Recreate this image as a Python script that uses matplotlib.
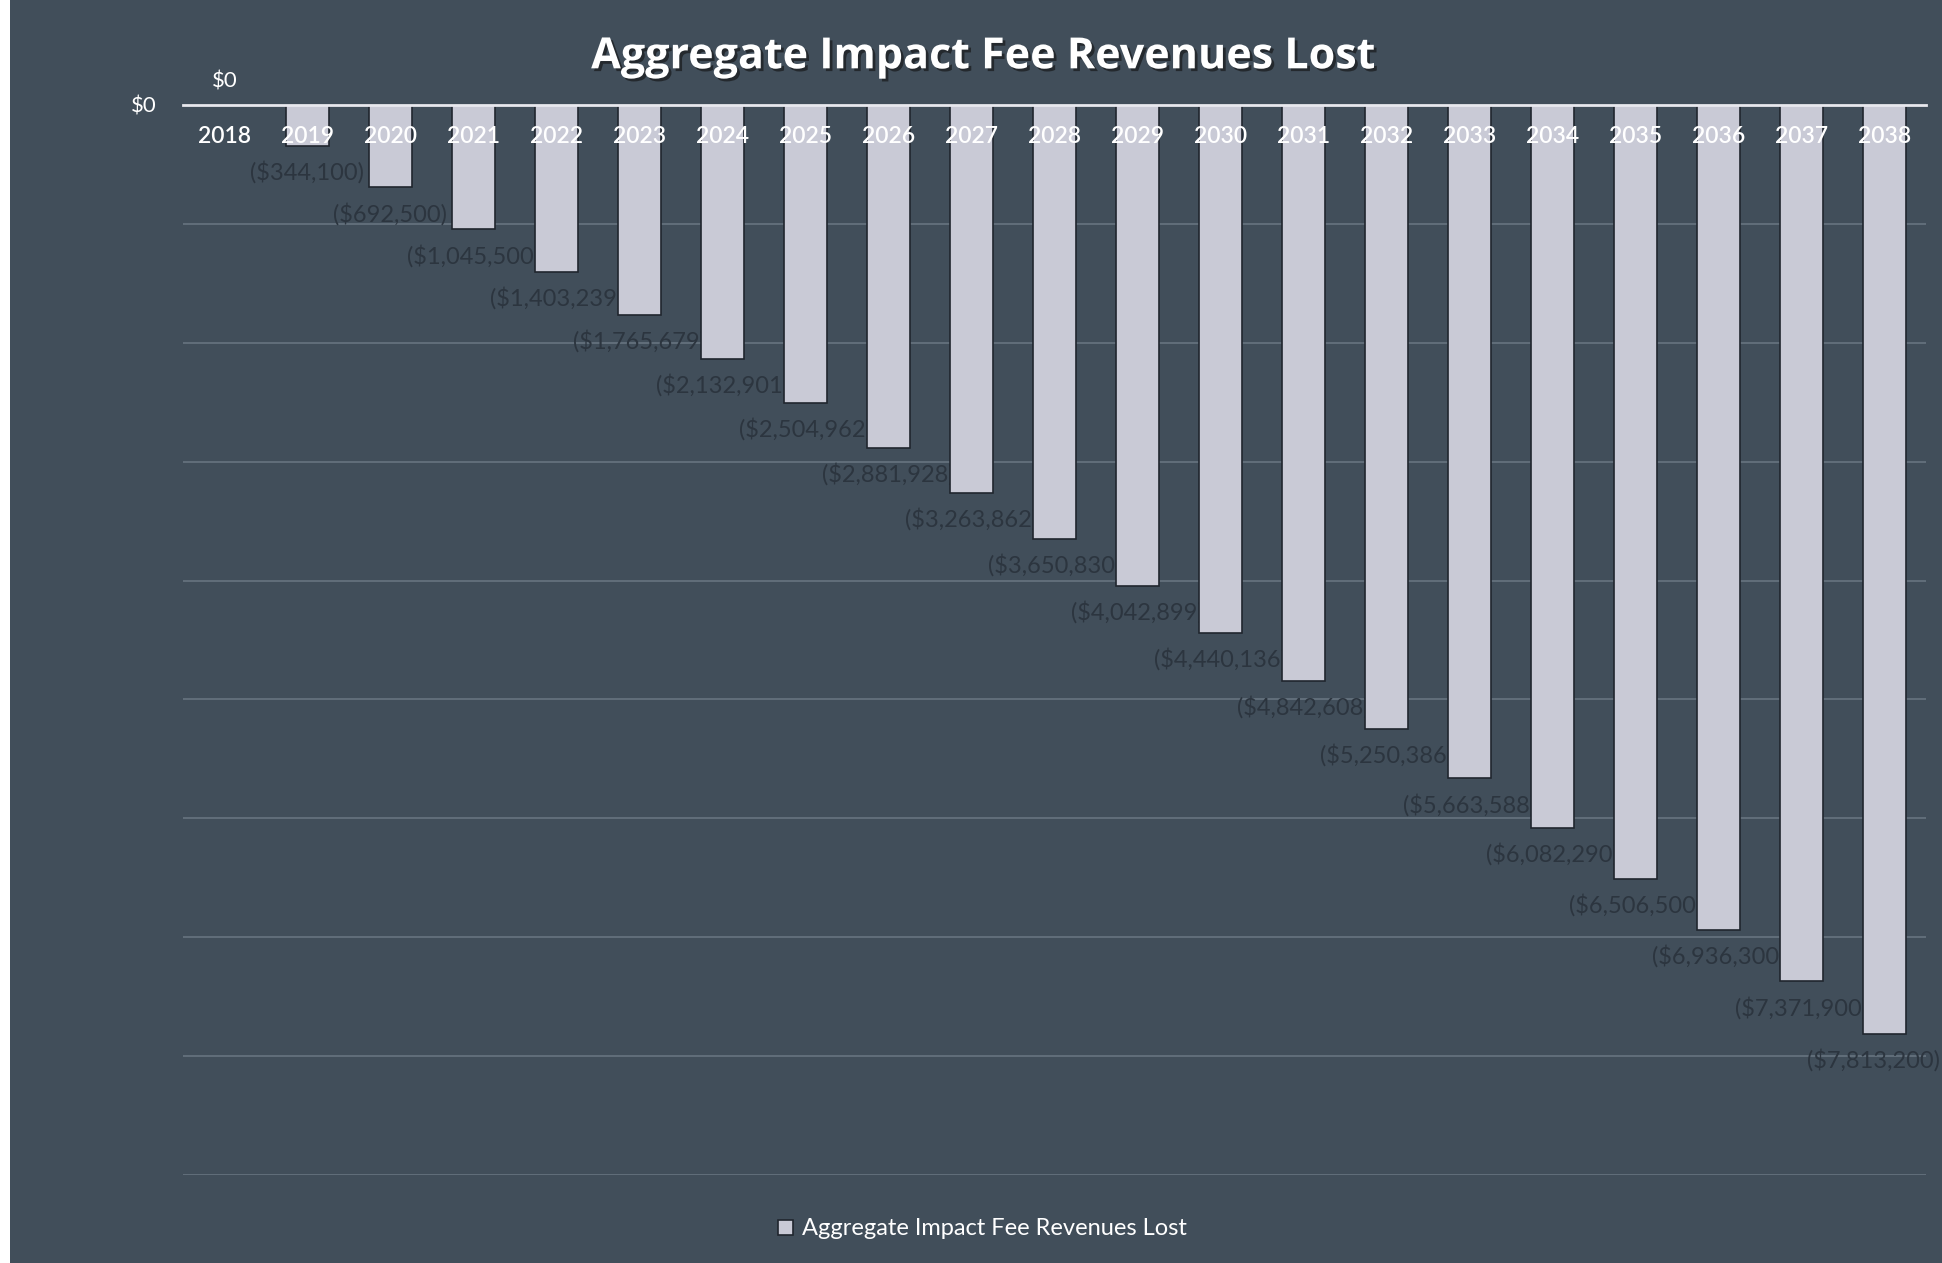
import matplotlib
matplotlib.use("Agg")
import matplotlib.pyplot as plt
from matplotlib.patches import Rectangle
import matplotlib.patheffects as pe

years = ["2018", "2019", "2020", "2021", "2022", "2023", "2024", "2025", "2026", "2027",
         "2028", "2029", "2030", "2031", "2032", "2033", "2034", "2035", "2036", "2037", "2038"]
revenues_lost = [0, -344100, -692500, -1045500, -1403239, -1765679, -2132901, -2504962,
                 -2881928, -3263862, -3650830, -4042899, -4440136, -4842608, -5250386,
                 -5663588, -6082290, -6506500, -6936300, -7371900, -7813200]
y_ticks = [0, -1000000, -2000000, -3000000, -4000000, -5000000, -6000000, -7000000,
           -8000000, -9000000]
y_tick_labels = ["$0", "", "", "", "", "", "", "", "", ""]
series_name = "Aggregate Impact Fee Revenues Lost"
title = "Aggregate Impact Fee Revenues Lost"

BG = "#414e5a"
BAR = "#c9cad6"
LABEL_DARK = "#2c353f"

plt.rcParams['font.family'] = ['Lato', 'DejaVu Sans']

fig = plt.figure(figsize=(19.42, 12.63), dpi=100, facecolor=BG)
ax = fig.add_axes([0.0942, 0.0697, 0.8976, 0.8472])
ax.set_facecolor(BG)

# white scan margin on the left
fig.patches.append(Rectangle((0, 0), 0.005, 1, transform=fig.transFigure,
                             facecolor="white", edgecolor="none", zorder=10))

for side in ["top", "left", "right"]:
    ax.spines[side].set_visible(False)
ax.spines["bottom"].set_position(("data", 0))
ax.spines["bottom"].set_color("#e8e8ee")
ax.spines["bottom"].set_linewidth(2)
ax.spines["bottom"].set_zorder(4)

x = list(range(len(years)))
bars = ax.bar(x, revenues_lost, width=0.52, color=BAR, edgecolor="#20262e",
              linewidth=1.2, zorder=2, label=series_name)

ax.set_xlim(-0.5, len(years) - 0.5)
ax.set_ylim(-9000000, 0)
ax.set_yticks(y_ticks)
ax.set_yticklabels(y_tick_labels, color="white", fontsize=16)
ax.tick_params(axis="y", length=0, pad=19)
ax.yaxis.grid(True, color="#74818e", linewidth=1.1, alpha=0.8)
ax.set_axisbelow(True)

ax.set_xticks(x)
ax.set_xticklabels(years, color="white", fontsize=16.5, fontweight="semibold")
ax.tick_params(axis="x", length=0, pad=15)
ax.xaxis.set_zorder(5)

n = len(years)
for i, (xi, v) in enumerate(zip(x, revenues_lost)):
    if v == 0:
        ax.annotate("$0", (xi, v), xytext=(0, 17), textcoords="offset points",
                    ha="center", va="center", color="white", fontsize=16,
                    annotation_clip=False, zorder=6)
    else:
        dx = -8 if i == n - 1 else 0
        ax.annotate("(${:,})".format(-v), (xi, v), xytext=(dx, -19),
                    textcoords="offset points", ha="center", va="center",
                    color=LABEL_DARK, fontsize=17, zorder=1.5, annotation_clip=False)

fig.text(0.506, 0.955, title, ha="center", va="center", color="white",
         fontsize=31, fontweight="bold", family=["Open Sans", "DejaVu Sans"],
         path_effects=[pe.withSimplePatchShadow(offset=(2, -2), shadow_rgbFace="#111111", alpha=0.6)])

leg = fig.legend(handles=[bars], labels=[series_name], loc="center",
                 bbox_to_anchor=(0.506, 0.027), frameon=False, fontsize=17,
                 handlelength=0.6, handleheight=0.6, handletextpad=0.4)
for t in leg.get_texts():
    t.set_color("white")

fig.savefig("out.png", dpi=100, facecolor=BG)
